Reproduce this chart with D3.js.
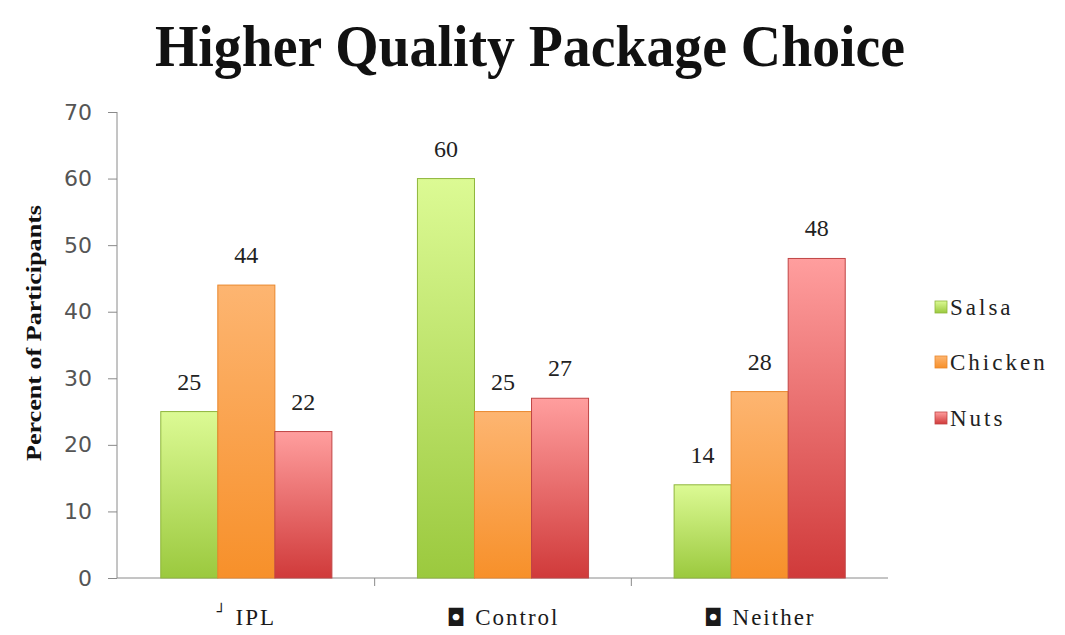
<!DOCTYPE html>
<html>
<head>
<meta charset="utf-8">
<script src="https://cdn.jsdelivr.net/npm/d3@7"></script>
<style>
  html, body { margin: 0; padding: 0; background: #fff; }
  svg { display: block; }
</style>
</head>
<body>
<svg id="chart" width="1065" height="635"></svg>
<script>
// Data
const categories = ["IPL", "Control", "Neither"];
const categoryMarks = ["\u2518", "\u25D8", "\u25D8"];
const seriesNames = ["Salsa", "Chicken", "Nuts"];
const salsa = [25, 60, 14];
const chicken = [44, 25, 28];
const nuts = [22, 27, 48];
const yTicks = [0, 10, 20, 30, 40, 50, 60, 70];

const seriesValues = [salsa, chicken, nuts];
const palette = [
  { top: "#dcfa94", bottom: "#9bc93e", stroke: "#8fb63c" },
  { top: "#fdb571", bottom: "#f7902a", stroke: "#e9872c" },
  { top: "#ff9e9e", bottom: "#d03a3a", stroke: "#c04545" }
];

const svg = d3.select("#chart");
const axisX = 117, plotRight = 888;
const x0 = d3.scaleBand().domain(categories).range([axisX + 1, plotRight]).paddingInner(0).paddingOuter(0);
const x1 = d3.scaleBand().domain(seriesNames).range([0, x0.bandwidth()]).paddingInner(0).paddingOuter(0.75);
const y = d3.scaleLinear().domain([0, 70]).range([578, 112]);

const serif = "'Liberation Serif', 'Times New Roman', serif";

// Vertical gradients, one per series, spanning each bar
const defs = svg.append("defs");
palette.forEach((p, i) => {
  const g = defs.append("linearGradient").attr("id", "grad" + i)
    .attr("x1", 0).attr("y1", 0).attr("x2", 0).attr("y2", 1);
  g.append("stop").attr("offset", "0%").attr("stop-color", p.top);
  g.append("stop").attr("offset", "100%").attr("stop-color", p.bottom);
});

// Title
svg.append("text")
  .attr("x", 530).attr("y", 66)
  .attr("text-anchor", "middle")
  .attr("font-family", serif)
  .attr("font-weight", "bold")
  .attr("font-size", 60)
  .attr("fill", "#111")
  .attr("textLength", 750).attr("lengthAdjust", "spacingAndGlyphs")
  .text("Higher Quality Package Choice");

// Y axis
const yAxis = d3.axisLeft(y).tickValues(yTicks).tickSize(9).tickPadding(16);
const gy = svg.append("g").attr("transform", `translate(${axisX},0)`).call(yAxis);
gy.select(".domain").attr("stroke", "#8a8a8a").attr("d", `M0,${y(70)}V${y(0)}`);
gy.selectAll(".tick line").attr("stroke", "#8a8a8a");
gy.selectAll(".tick text")
  .attr("font-family", "'DejaVu Sans', Verdana, sans-serif")
  .attr("font-size", 22)
  .attr("fill", "#555");

// X axis
const xAxis = d3.axisBottom(x0).tickSize(0).tickFormat(() => "");
const gx = svg.append("g").attr("transform", `translate(0,${y(0)})`).call(xAxis);
gx.select(".domain").attr("stroke", "#8a8a8a").attr("d", `M${axisX},0H${plotRight}`);
// separators between categories
const seps = categories.slice(0, -1).map(c => x0(c) + x0.bandwidth());
gx.selectAll("line.sep").data(seps).enter().append("line")
  .attr("class", "sep")
  .attr("x1", d => d).attr("x2", d => d)
  .attr("y1", 0).attr("y2", 8)
  .attr("stroke", "#8a8a8a");

// Category labels
const catLabels = svg.append("g");
categories.forEach((c, i) => {
  const t = catLabels.append("text")
    .attr("x", x0(c) + x0.bandwidth() / 2)
    .attr("y", 625)
    .attr("text-anchor", "middle")
    .attr("font-family", serif)
    .attr("font-size", 23)
    .attr("letter-spacing", 2)
    .attr("fill", "#1a1a1a");
  t.append("tspan")
    .attr("font-family", "'DejaVu Sans', sans-serif")
    .attr("font-size", i === 0 ? 15 : 24)
    .attr("dy", i === 0 ? -8 : 1)
    .text(categoryMarks[i]);
  t.append("tspan").attr("dy", i === 0 ? 8 : -1).text(" " + c);
});

// Y axis title
svg.append("text")
  .attr("transform", `translate(41,333) rotate(-90)`)
  .attr("text-anchor", "middle")
  .attr("font-family", serif)
  .attr("font-weight", "bold")
  .attr("font-size", 22)
  .attr("textLength", 256).attr("lengthAdjust", "spacingAndGlyphs")
  .attr("fill", "#111")
  .text("Percent of Participants");

// Bars
const rows = (c, ci) => seriesNames.map((s, si) => ({ s, si, v: seriesValues[si][ci] }));
const groups = svg.append("g").selectAll("g")
  .data(categories).enter().append("g")
  .attr("transform", c => `translate(${x0(c)},0)`);

groups.selectAll("rect")
  .data(rows)
  .enter().append("rect")
  .attr("x", d => x1(d.s))
  .attr("y", d => y(d.v))
  .attr("width", x1.bandwidth())
  .attr("height", d => y(0) - y(d.v))
  .attr("fill", d => `url(#grad${d.si})`)
  .attr("stroke", d => palette[d.si].stroke)
  .attr("stroke-width", 1);

groups.selectAll("text.val")
  .data(rows)
  .enter().append("text")
  .attr("class", "val")
  .attr("x", d => x1(d.s) + x1.bandwidth() / 2)
  .attr("y", d => y(d.v) - 22)
  .attr("text-anchor", "middle")
  .attr("font-family", serif)
  .attr("font-size", 24)
  .attr("fill", "#222")
  .text(d => d.v);

// Legend
const legend = svg.append("g");
const legendY = [307, 362, 418];
seriesNames.forEach((s, i) => {
  legend.append("rect")
    .attr("x", 935).attr("y", legendY[i] - 6)
    .attr("width", 12).attr("height", 12)
    .attr("fill", `url(#grad${i})`)
    .attr("stroke", palette[i].stroke).attr("stroke-width", 0.8);
  legend.append("text")
    .attr("x", 950).attr("y", legendY[i] + 8)
    .attr("font-family", serif)
    .attr("font-size", 23)
    .attr("letter-spacing", 3)
    .attr("fill", "#222")
    .text(s);
});
</script>
</body>
</html>
